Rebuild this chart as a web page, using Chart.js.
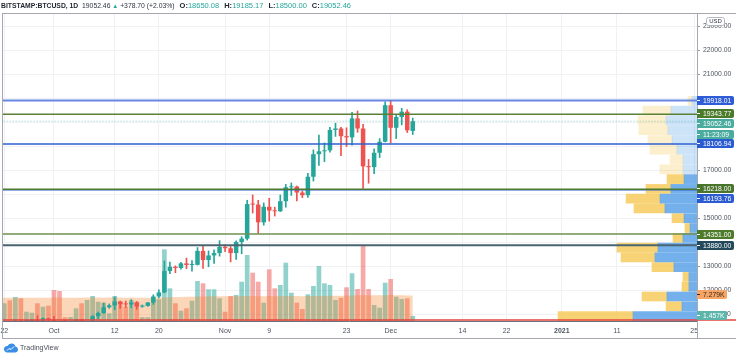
<!DOCTYPE html>
<html>
<head>
<meta charset="utf-8">
<title>BITSTAMP:BTCUSD, 1D</title>
<script src="https://cdn.jsdelivr.net/npm/chart.js@4.4.1/dist/chart.umd.min.js"></script>
<style>
  html, body { margin:0; padding:0; background:#ffffff; }
  body { width:736px; height:357px; overflow:hidden; position:relative; font-family:"Liberation Sans", Arial, sans-serif; }
  #chart { position:absolute; left:0; top:0; }
  #frame { position:absolute; left:2px; top:13px; width:734px; height:326px; box-sizing:border-box;
           border-left:1px solid #a5a8b0; border-top:1px solid #a5a8b0; border-bottom:1px solid #a5a8b0; pointer-events:none; }
  #hdr { position:absolute; left:1px; top:1px; font-size:6.8px; line-height:9px; white-space:nowrap; color:#2f3340; }
  #hdr b { font-weight:bold; color:#1f232e; }
  #hdr .v { color:#26a69a; }
  #hdr .a { color:#26a69a; font-size:6px; }
  #hdr .g { margin-left:5px; font-size:7.5px; }
  #logo { position:absolute; left:3px; top:342px; height:11px; display:flex; align-items:center; font-size:7px; color:#4a4e59; }
  #logo svg { margin-right:2px; }
</style>
</head>
<body>
<canvas id="chart" width="736" height="357"></canvas>
<div id="frame"></div>
<div id="hdr"><b>BITSTAMP:BTCUSD, 1D</b>&nbsp; 19052.46 <span class="a">&#9650;</span> +378.70 (+2.03%)<span class="g"><b>O:</b><span class="v">18650.08</span></span><span class="g"><b>H:</b><span class="v">19185.17</span></span><span class="g"><b>L:</b><span class="v">18500.00</span></span><span class="g"><b>C:</b><span class="v">19052.46</span></span></div>
<div id="logo"><svg width="15" height="10" viewBox="0 0 30 20"><path d="M7 19h17a6 6 0 0 0 1-11.9A8.5 8.5 0 0 0 9 6.2 6.5 6.5 0 0 0 7 19z" fill="#3a8ee6"/><polyline points="8,15 12,11 16,13 22,7" fill="none" stroke="#ffffff" stroke-width="2"/></svg><span>TradingView</span></div>
<script>
// ---------------- DATA ----------------
const startDate = '2020-09-21';   // first daily candle (index 0)

const opens = [10920,
  10418,10530,10240,10740,10690,10730,10775,10700,10840,10780,
  10620,10570,10545,10670,10790,10600,10670,10930,11060,11300,
  11380,11540,11430,11420,11500,11330,11360,11500,11750,11920,
  12810,12990,12940,13130,13060,13070,13650,13270,13460,13560,
  13820,13760,13560,14020,14160,15600,15580,14840,15490,15330,
  15300,15720,16300,16330,16080,15970,16740,17680,17800,17840,
  18690,18750,18430,18380,19170,18750,17170,17140,17740,18200,
  19720,18780,19230,19450,18650.08];

const highs = [10990,
  10575,10535,10780,10780,10760,10800,10950,10860,10850,10920,
  10660,10600,10690,10800,10800,10700,10960,11100,11480,11440,
  11730,11560,11560,11620,11540,11400,11500,11820,12030,13230,
  13180,13030,13170,13350,13250,13790,13860,13650,13690,14080,
  13900,13830,14070,14240,15760,15980,15760,15650,15840,15470,
  15980,16420,16480,16350,16150,16880,17860,18480,18150,18800,
  18970,18800,18780,19420,19480,18920,17460,17900,18330,19860,
  19918.01,19340,19590,19530,19185.17];

const lows = [10300,
  10360,10136,10200,10590,10650,10620,10650,10640,10680,10430,
  10370,10500,10520,10620,10520,10560,10540,10830,11050,11260,
  11200,11260,11290,11280,11220,11300,11340,11420,11690,11900,
  12700,12740,12890,12910,12810,13060,12920,12990,13130,13430,
  13620,13190,13290,13530,14100,15230,14380,14720,14890,15100,
  15290,15470,15960,15730,15870,15880,16560,17210,17370,17760,
  18420,17620,18000,18050,18590,16250,16470,16870,17540,18190,
  18150,18330,18900,18580,18500.00];

const closes = [10418,
  10530,10240,10740,10690,10730,10775,10700,10840,10780,10620,
  10570,10545,10670,10790,10600,10670,10930,11060,11300,11380,
  11540,11430,11420,11500,11330,11360,11500,11750,11920,12810,
  12990,12940,13130,13060,13070,13650,13270,13460,13560,13820,
  13760,13560,14020,14160,15600,15580,14840,15490,15330,15300,
  15720,16300,16330,16080,15970,16740,17680,17800,17840,18690,
  18750,18430,18380,19170,18750,17170,17140,17740,18200,19720,
  18780,19230,19450,18673.76,19052.46];

const volumes = [12500,
  5060,5910,6860,6490,2660,2370,5060,4090,4370,8860,
  8570,1060,1140,3630,5060,6000,7140,5510,5230,2200,
  7140,5510,4090,6000,5510,1100,1060,6200,6200,20480,
  9340,5060,2940,3630,5800,11430,10770,9060,9060,6490,
  2660,7140,7430,11230,18860,13800,11230,5230,14770,9340,
  10290,16660,8090,5230,3430,7630,10000,15710,10770,10290,
  6000,6660,9630,13630,9140,21710,9140,4570,3800,10940,
  12000,6940,6290,6490,1457];

const volumeMA = [6650,6660,6640,6650,6670,6660,6650,6640,6650,6670,
  6690,6680,6660,6650,6660,6670,6680,6690,6680,6670,
  6680,6690,6680,6670,6680,6670,6660,6670,6680,6690,
  6750,6800,6840,6880,6920,6960,7000,7030,
  7050,7060,7050,7040,7060,7080,7100,7120,7110,7100,7090,7110,
  7100,7090,7110,7130,7120,7100,7110,7130,7150,7160,7180,7200,
  7230,7260,7300,7330,7400,7390,7370,7360,7380,7400,7380,7350,7320,7279];

const tickDates  = ['2020-09-22','2020-10-01','2020-10-12','2020-10-20','2020-11-01','2020-11-09','2020-11-23',
                    '2020-12-01','2020-12-14','2020-12-22','2021-01-01','2021-01-11','2021-01-25'];
const tickLabels = ['22','Oct','12','20','Nov','9','23','Dec','14','22','2021','11','25'];
const priceTickStep = 1000;

// horizontal levels drawn on the chart
const levelPrices = [19918.01, 19343.77, 18106.94, 16218.00, 16193.76, 14351.00, 13880.00];

// volume profile (visible range), rows from top (vpHigh) to bottom (vpLow), volume in K
const vpHigh = 19918.01;
const vpLow  = 10136.00;
const vpValueAreaHigh = 16657;
const vpUp   = [3.2,16.5,19.6,18.4,15.8,12.7,8.9,8.9,8.2,16.5,23.4,20.3,8.2,4.4,8.9,24.7,26.6,14.6,5.1,5.1,19.0,9.5,40.5,30.0];
const vpDown = [2.5,17.7,17.7,18.4,15.2,17.1,8.2,14.6,10.8,15.8,21.5,19.6,7.6,3.2,6.3,25.9,21.5,13.9,3.8,4.4,15.8,10.1,47.5,35.0];

const countdownText = '11:23:09';

// ---------------- HELPERS / STYLES ----------------
const DAY = 86400000;
const t0 = Date.parse(startDate + 'T00:00:00Z');
const dayOf = d => Math.round((Date.parse(d + 'T00:00:00Z') - t0) / DAY);
const tickDays = tickDates.map(dayOf);
const lastIdx = closes.length - 1;
const lastPrice = closes[lastIdx];
const isUp = i => closes[i] >= opens[i];
const vpStep = (vpHigh - vpLow) / vpUp.length;
const vpCenter = i => vpHigh - (i + 0.5) * vpStep;
const priceTicks = s => {
  const out = [];
  for (let v = Math.ceil(s.min / priceTickStep) * priceTickStep; v <= s.max; v += priceTickStep) out.push({value: v});
  return out;
};

const UP = '#26a69a', DOWN = '#ef5350';
const FONT = '"Liberation Sans", Arial, sans-serif';
const levelStyle = [
  {line:'rgba(78,116,222,0.85)', width:2,   box:'#2d5cd6', shift:0},
  {line:'#5a8036',               width:1.5, box:'#4b7a2a', shift:-1},
  {line:'#2f5fd0',               width:1.5, box:'#2b5bd0', shift:0},
  {line:'#4d7a30',               width:1.5, box:'#48742b', shift:-1},
  {line:'#2f5fd0',               width:1.5, box:'#2b5bd0', shift:9},
  {line:'#6f9150',               width:1.5, box:'#4e7b2b', shift:0},
  {line:'#4a6472',               width:2,   box:'#23495a', shift:0}
];

// ---------------- DATASETS ----------------
const datasets = [];
datasets.push({
  type:'bar', label:'VP up', indexAxis:'y', xAxisID:'xv', yAxisID:'yv', stack:'vp',
  data: vpUp.map((v, i) => ({x: v, y: vpCenter(i)})),
  backgroundColor: c => vpCenter(c.dataIndex) > vpValueAreaHigh ? 'rgba(70,150,228,0.27)' : 'rgba(70,150,228,0.75)',
  barThickness:9, order:10, clip:0
});
datasets.push({
  type:'bar', label:'VP down', indexAxis:'y', xAxisID:'xv', yAxisID:'yv', stack:'vp',
  data: vpDown.map((v, i) => ({x: v, y: vpCenter(i)})),
  backgroundColor: c => vpCenter(c.dataIndex) > vpValueAreaHigh ? 'rgba(245,196,70,0.27)' : 'rgba(245,196,70,0.74)',
  barThickness:9, order:10, clip:0
});
datasets.push({
  type:'bar', label:'Volume', xAxisID:'x', yAxisID:'yVol',
  data: volumes.map((v, i) => ({x: i, y: v})),
  backgroundColor: c => isUp(c.dataIndex) ? 'rgba(38,166,154,0.5)' : 'rgba(239,83,80,0.5)',
  grouped:false, barPercentage:0.85, categoryPercentage:1, order:9, clip:0
});
datasets.push({
  type:'line', label:'Volume MA', xAxisID:'x', yAxisID:'yVol',
  data: volumeMA.map((v, i) => ({x: i, y: v})),
  stepped:'middle', fill:'origin', backgroundColor:'rgba(245,130,40,0.33)',
  borderColor:'rgba(0,0,0,0)', borderWidth:0, pointRadius:0, order:8, clip:0
});
datasets.push({
  type:'bar', label:'Wicks', xAxisID:'x', yAxisID:'y',
  data: highs.map((h, i) => ({x: i, y: [lows[i], h]})),
  backgroundColor: c => isUp(c.dataIndex) ? UP : DOWN,
  grouped:false, barPercentage:1, categoryPercentage:1, maxBarThickness:1, order:7, clip:0
});
datasets.push({
  type:'bar', label:'Bodies', xAxisID:'x', yAxisID:'y',
  data: opens.map((o, i) => ({x: i, y: [o, closes[i]]})),
  backgroundColor: c => isUp(c.dataIndex) ? UP : DOWN,
  grouped:false, barPercentage:0.82, categoryPercentage:1, minBarLength:1, order:6, clip:0
});
levelPrices.forEach((p, k) => datasets.push({
  type:'line', label:'Level ' + p, xAxisID:'x', yAxisID:'y',
  data: [{x:-10, y:p}, {x:400, y:p}],
  borderColor: levelStyle[k].line, borderWidth: levelStyle[k].width, pointRadius:0, order:2, clip:0
}));
datasets.push({
  type:'line', label:'Last price', xAxisID:'x', yAxisID:'y',
  data: [{x:-10, y:lastPrice}, {x:400, y:lastPrice}],
  borderColor:'rgba(38,166,154,0.55)', borderWidth:1, borderDash:[1,2], pointRadius:0, order:1, clip:0
});

// ---------------- PLUGIN: axis labels & pane lines ----------------
const markerPrices = levelPrices.concat([lastPrice]);
const overlay = {
  id:'overlay',
  afterDatasetsDraw(chart) {
    const {ctx, chartArea:a} = chart;
    ctx.save();
    ctx.strokeStyle = '#e2463f'; ctx.lineWidth = 1.6;
    ctx.beginPath(); ctx.moveTo(a.left, a.bottom - 1); ctx.lineTo(chart.width, a.bottom - 1); ctx.stroke();
    ctx.strokeStyle = '#6c717b'; ctx.lineWidth = 1;
    ctx.beginPath(); ctx.moveTo(a.left, a.bottom + 0.5); ctx.lineTo(a.right, a.bottom + 0.5); ctx.stroke();
    ctx.strokeStyle = '#a5a8b0';
    ctx.beginPath(); ctx.moveTo(a.right + 0.5, a.bottom); ctx.lineTo(a.right + 0.5, a.bottom + 17); ctx.stroke();
    ctx.restore();
  },
  afterDraw(chart) {
    const {ctx, chartArea:a, scales} = chart;
    const y = scales.y, yVol = scales.yVol;
    ctx.save();
    const box = (cy, text, bg, fg, w) => {
      const h = 9, top = Math.round(cy - h / 2);
      ctx.fillStyle = bg;
      ctx.beginPath();
      if (ctx.roundRect) ctx.roundRect(a.right, top, w, h, [0, 2, 2, 0]); else ctx.rect(a.right, top, w, h);
      ctx.fill();
      ctx.strokeStyle = fg; ctx.lineWidth = 1;
      ctx.beginPath(); ctx.moveTo(a.right, top + 4.5); ctx.lineTo(a.right + 3, top + 4.5); ctx.stroke();
      ctx.fillStyle = fg;
      ctx.font = '6.8px ' + FONT;
      ctx.textAlign = 'left'; ctx.textBaseline = 'middle';
      ctx.fillText(text, a.right + 6, top + h / 2 + 0.5);
    };
    levelPrices.forEach((p, k) => box(y.getPixelForValue(p) + levelStyle[k].shift, p.toFixed(2), levelStyle[k].box, '#ffffff', 37));
    const lp = y.getPixelForValue(lastPrice) + 2;
    box(lp, lastPrice.toFixed(2), '#4aab9f', '#ffffff', 37);
    box(lp + 11.5, countdownText, '#4aab9f', '#ffffff', 37);
    const ma = volumeMA[volumeMA.length - 1], lv = volumes[lastIdx];
    box(yVol.getPixelForValue(ma) - 1.5, (ma / 1000).toFixed(3) + 'K', '#f6a566', '#3b2a1a', 30);
    box(yVol.getPixelForValue(lv) - 0.5, (lv / 1000).toFixed(3) + 'K', '#5cb5aa', '#ffffff', 30);
    // currency tag
    ctx.fillStyle = '#ffffff'; ctx.strokeStyle = '#b4b7be'; ctx.lineWidth = 1;
    ctx.beginPath();
    if (ctx.roundRect) ctx.roundRect(706.5, 17.5, 18, 8, 2); else ctx.rect(706.5, 17.5, 18, 8);
    ctx.fill(); ctx.stroke();
    ctx.fillStyle = '#2f3340'; ctx.font = '6px ' + FONT; ctx.textAlign = 'center'; ctx.textBaseline = 'middle';
    ctx.fillText('USD', 715.5, 21.8);
    ctx.restore();
  }
};

// ---------------- CHART ----------------
new Chart(document.getElementById('chart'), {
  data: { datasets },
  options: {
    responsive:false, animation:false, devicePixelRatio:1,
    layout: { padding: {left:2, top:13, right:0, bottom:19} },
    plugins: { legend:{display:false}, tooltip:{enabled:false} },
    scales: {
      x: {
        type:'linear', position:'bottom', min:0.58, max:126.5, offset:false,
        afterBuildTicks: s => { s.ticks = tickDays.map(v => ({value:v})); },
        afterFit: s => { s.height = 17; s.paddingLeft = 0; s.paddingRight = 0; },
        ticks: {
          autoSkip:false, maxRotation:0, padding:6, color:'#4c525e',
          font: c => ({family:FONT, size:7, weight: tickLabels[c.index] === '2021' ? 'bold' : 'normal'}),
          callback: (v, i) => tickLabels[i]
        },
        grid: { color:'#eff1f4', drawTicks:false, offset:false },
        border: { display:false }
      },
      y: {
        type:'linear', position:'right', min:10729, max:23562, offset:false,
        afterBuildTicks: s => { s.ticks = priceTicks(s); },
        afterFit: s => { s.width = 39; },
        ticks: {
          autoSkip:false, padding:3, color:'#4c525e',
          font: {family:FONT, size:6.8},
          callback: v => markerPrices.some(p => Math.abs(p - v) < 260) ? '' : Number(v).toFixed(2)
        },
        grid: { color:'#eff1f4', tickLength:3, tickColor:'#9aa0a8', offset:false },
        border: { color:'#a5a8b0' }
      },
      yVol: { type:'linear', display:false, position:'right', min:0, max:88000, offset:false },
      xv:   { type:'linear', display:false, position:'bottom', min:0, max:440, reverse:true, stacked:true, offset:false },
      yv:   { type:'linear', display:false, position:'right', min:10729, max:23562, stacked:true, offset:false,
              afterBuildTicks: s => { s.ticks = priceTicks(s); } }
    }
  },
  plugins: [overlay]
});
</script>
</body>
</html>
